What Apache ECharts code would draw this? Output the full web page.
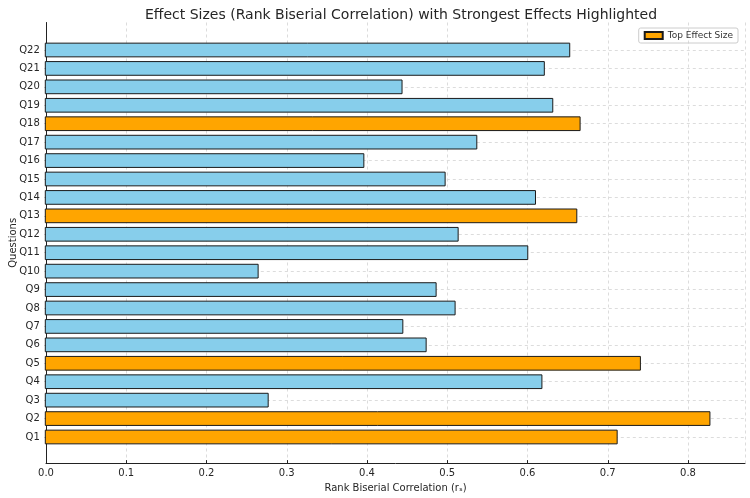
<!DOCTYPE html>
<html>
<head>
<meta charset="utf-8">
<script src="https://cdn.jsdelivr.net/npm/echarts@6/dist/echarts.min.js"></script>
<style>
  html, body { margin: 0; padding: 0; background: #fff; }
  #chart { width: 750px; height: 498px; }
</style>
</head>
<body>
<div id="chart"></div>
<script>
const categories = ['Q1','Q2','Q3','Q4','Q5','Q6','Q7','Q8','Q9','Q10','Q11','Q12','Q13','Q14','Q15','Q16','Q17','Q18','Q19','Q20','Q21','Q22'];
const effectSizes = [0.7126, 0.828, 0.2785, 0.619, 0.7415, 0.475, 0.446, 0.511, 0.4874, 0.266, 0.6014, 0.5148, 0.6624, 0.611, 0.4986, 0.3975, 0.538, 0.6665, 0.6325, 0.445, 0.622, 0.6536];
const topQuestions = ['Q1','Q2','Q5','Q13','Q18'];
const xMin = 0, xMax = 0.871, xStep = 0.1;

const FONT = 'DejaVu Sans';
const normalData = effectSizes.map((v, i) => topQuestions.includes(categories[i]) ? '-' : v);
const topData = effectSizes.map((v, i) => topQuestions.includes(categories[i]) ? v : '-');

const chart = echarts.init(document.getElementById('chart'), null, { renderer: 'canvas' });
const gridColor = '#dcdcdc';
chart.setOption({
  animation: false,
  backgroundColor: '#fff',
  textStyle: { fontFamily: FONT },
  title: {
    text: 'Effect Sizes (Rank Biserial Correlation) with Strongest Effects Highlighted',
    left: 396, top: 3, textAlign: 'center',
    textStyle: { fontFamily: FONT, fontSize: 14, fontWeight: 'normal', color: '#262626' }
  },
  legend: {
    data: ['Top Effect Size'],
    icon: 'rect',
    right: 12, top: 28,
    itemWidth: 18, itemHeight: 7, itemGap: 6, padding: [3, 5],
    borderColor: '#cccccc', borderWidth: 1, borderRadius: 2,
    textStyle: { fontFamily: FONT, fontSize: 9, color: '#333' }
  },
  grid: [
    { left: 44.8, right: 5, top: 22.5, bottom: 34 },
    { left: 44.8, right: 5, top: 50, bottom: 61 }
  ],
  xAxis: [
    {
      gridIndex: 0, type: 'value', min: xMin, max: xMax, interval: xStep,
      axisLine: { show: true, lineStyle: { color: '#222', width: 1 } },
      axisTick: { show: true, inside: true, length: 3, lineStyle: { color: '#222' } },
      axisLabel: { fontFamily: FONT, fontSize: 10, color: '#262626', margin: 5, formatter: v => v.toFixed(1), showMaxLabel: false },
      splitLine: { show: true, lineStyle: { color: gridColor, type: [3, 3], width: 1 } },
      name: 'Rank Biserial Correlation (rₛ)', nameLocation: 'middle', nameGap: 16,
      nameTextStyle: { fontFamily: FONT, fontSize: 10, color: '#262626' }
    },
    {
      gridIndex: 1, type: 'value', min: xMin, max: xMax, show: false
    }
  ],
  yAxis: [
    {
      gridIndex: 0, type: 'value', min: 0, max: 1,
      axisLine: { show: true, lineStyle: { color: '#222', width: 1 } },
      axisTick: { show: false }, axisLabel: { show: false }, splitLine: { show: false },
      name: 'Questions', nameLocation: 'middle', nameGap: 28, nameRotate: 90,
      nameTextStyle: { fontFamily: FONT, fontSize: 10, color: '#262626' }
    },
    {
      gridIndex: 1, type: 'category', data: categories, boundaryGap: false,
      axisLine: { show: false },
      axisTick: { show: true, inside: true, length: 3, lineStyle: { color: '#444' } },
      axisLabel: { fontFamily: FONT, fontSize: 10, color: '#262626', margin: 5, interval: 0 },
      splitLine: { show: true, lineStyle: { color: gridColor, type: [3, 3], width: 1 } }
    }
  ],
  series: [
    {
      name: 'Effect Size', type: 'bar', xAxisIndex: 1, yAxisIndex: 1,
      data: normalData, barWidth: 14.7, barGap: '-100%', clip: false,
      itemStyle: { color: '#87CEEB', borderColor: '#1a1a1a', borderWidth: 1 }
    },
    {
      name: 'Top Effect Size', type: 'bar', xAxisIndex: 1, yAxisIndex: 1,
      data: topData, barWidth: 14.7, barGap: '-100%', clip: false,
      itemStyle: { color: '#FFA500', borderColor: '#1a1a1a', borderWidth: 1 }
    }
  ]
});
</script>
</body>
</html>
